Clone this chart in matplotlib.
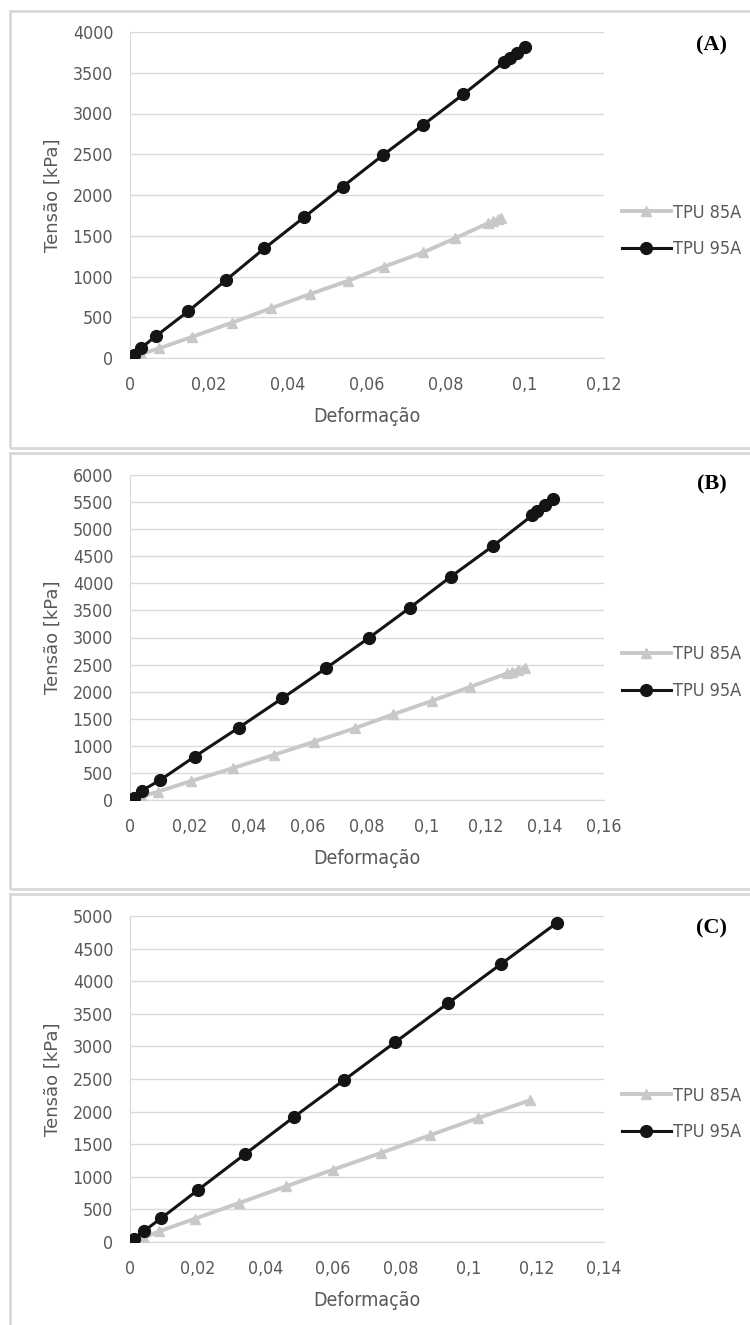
import numpy as np
import matplotlib
matplotlib.use('Agg')
import matplotlib.pyplot as plt
from matplotlib.patches import Rectangle
from matplotlib.ticker import FuncFormatter
from matplotlib import font_manager

# --------------------------------------------------------------------------- #
# Data (deformation, stress in kPa)
# --------------------------------------------------------------------------- #
seriesNames = ['TPU 85A', 'TPU 95A']
panelLabels = ['(A)', '(B)', '(C)']

# Panel A
a85_x = [0.0010, 0.0028, 0.0074, 0.0158, 0.0258, 0.0356, 0.0456, 0.0553, 0.0642,
         0.0742, 0.0822, 0.0907, 0.0919, 0.0931, 0.0940]
a85_y = [16, 49, 119, 261, 433, 609, 785, 948, 1119, 1295, 1467, 1655, 1683, 1704, 1716]
a95_x = [0.0010, 0.0028, 0.0067, 0.0147, 0.0244, 0.0340, 0.0440, 0.0539, 0.0640,
         0.0742, 0.0844, 0.0947, 0.0961, 0.0980, 0.1000]
a95_y = [41, 123, 274, 572, 960, 1344, 1724, 2104, 2488, 2860, 3236, 3632, 3686, 3747, 3816]

# Panel B
b85_x = [0.0013, 0.0040, 0.0094, 0.0207, 0.0346, 0.0485, 0.0622, 0.0758, 0.0889,
         0.1018, 0.1147, 0.1273, 0.1290, 0.1309, 0.1333]
b85_y = [12, 62, 154, 351, 585, 831, 1077, 1323, 1582, 1828, 2086, 2338, 2369, 2400, 2443]
b95_x = [0.0013, 0.0040, 0.0102, 0.0218, 0.0367, 0.0514, 0.0661, 0.0806, 0.0945,
         0.1083, 0.1225, 0.1358, 0.1374, 0.1400, 0.1427]
b95_y = [43, 172, 369, 800, 1335, 1877, 2431, 2991, 3551, 4123, 4689, 5255, 5335, 5440, 5551]

# Panel C
c85_x = [0.0011, 0.0040, 0.0086, 0.0192, 0.0322, 0.0461, 0.0600, 0.0741, 0.0885,
         0.1029, 0.1181]
c85_y = [10, 61, 164, 358, 598, 854, 1110, 1365, 1636, 1902, 2173]
c95_x = [0.0011, 0.0040, 0.0093, 0.0202, 0.0339, 0.0484, 0.0631, 0.0784, 0.0940,
         0.1097, 0.1260]
c95_y = [51, 164, 368, 803, 1345, 1917, 2479, 3067, 3665, 4268, 4892]

xMax = [0.12, 0.16, 0.14]
yMax = [4000, 6000, 5000]

# --------------------------------------------------------------------------- #
# Style
# --------------------------------------------------------------------------- #
plt.rcParams['font.family'] = ['DejaVu Sans']
plt.rcParams['font.stretch'] = 'condensed'
txtColor = '#595959'
gridColor = '#d9d9d9'
lightColor = '#c8c8c8'
darkColor = '#141414'

narrow = font_manager.FontProperties(family='DejaVu Sans', stretch='condensed', size=12.8)
legFont = font_manager.FontProperties(family='DejaVu Sans', stretch='condensed', size=13)
labFont = font_manager.FontProperties(family='DejaVu Sans', stretch='condensed', size=14)

W, H = 750.0, 1325.0
fig = plt.figure(figsize=(7.5, 13.25), dpi=100)

def commaFmt(v, pos):
  s = '{:g}'.format(round(v, 4))
  return s.replace('.', ',')

# panel geometry in pixels
panels = [
  dict(top=32, bot=358, boxTop=11, boxBot=448, leg=(212, 250), lab=45),
  dict(top=475, bot=800, boxTop=453, boxBot=889, leg=(654, 691), lab=484),
  dict(top=916, bot=1242, boxTop=894, boxBot=1400, leg=(1095, 1133), lab=928),
]
data = [(a85_x, a85_y, a95_x, a95_y),
        (b85_x, b85_y, b95_x, b95_y),
        (c85_x, c85_y, c95_x, c95_y)]

for i, p in enumerate(panels):
  # border box
  fig.patches.append(Rectangle((10 / W, 1 - p['boxBot'] / H), 800 / W,
                               (p['boxBot'] - p['boxTop']) / H,
                               transform=fig.transFigure, fill=False,
                               edgecolor=gridColor, linewidth=2))

  ax = fig.add_axes([130 / W, 1 - p['bot'] / H, 474 / W, (p['bot'] - p['top']) / H])
  x85, y85, x95, y95 = data[i]
  ax.plot(x85, y85, color=lightColor, linewidth=2.8, marker='^', markersize=7.5,
          label=seriesNames[0], zorder=3)
  ax.plot(x95, y95, color=darkColor, linewidth=2.2, marker='o', markersize=8.5,
          label=seriesNames[1], zorder=4)

  ax.set_xlim(0, xMax[i])
  ax.set_ylim(0, yMax[i])
  ax.set_xticks(np.arange(0, xMax[i] + 1e-9, 0.02))
  ax.set_yticks(np.arange(0, yMax[i] + 1, 500))
  ax.xaxis.set_major_formatter(FuncFormatter(commaFmt))
  ax.grid(axis='y', color=gridColor, linewidth=1)
  ax.set_axisbelow(True)
  for s in ['top', 'right']:
    ax.spines[s].set_visible(False)
  ax.spines['left'].set_color(gridColor)
  ax.spines['bottom'].set_color(gridColor)
  ax.tick_params(length=0, colors=txtColor)
  ax.tick_params(axis='x', pad=13)
  ax.tick_params(axis='y', pad=12)
  for t in ax.get_xticklabels() + ax.get_yticklabels():
    t.set_fontproperties(narrow)
  ax.set_xlabel('Deformação', fontproperties=labFont, color=txtColor, labelpad=9)
  ax.text(-0.162, 0.5, 'Tensão [kPa]', transform=ax.transAxes, rotation=90,
          ha='center', va='center', fontsize=13, color=txtColor,
          family=['DejaVu Sans'], stretch='normal', fontweight='medium')

  legY = 1 - ((p['leg'][0] + p['leg'][1]) / 2 - p['top']) / (p['bot'] - p['top'])
  leg = ax.legend(loc='center left', bbox_to_anchor=(1.038, legY),
                  frameon=False, prop=legFont, handlelength=2.7, handletextpad=0.1,
                  labelspacing=1.05, borderaxespad=0, borderpad=0)
  for t in leg.get_texts():
    t.set_color(txtColor)

  fig.text(727 / W, 1 - p['lab'] / H, panelLabels[i], ha='right', va='center',
           fontsize=16, fontweight='bold', family=['Liberation Serif', 'DejaVu Serif'])

fig.savefig('out.png', dpi=100, facecolor='white')
